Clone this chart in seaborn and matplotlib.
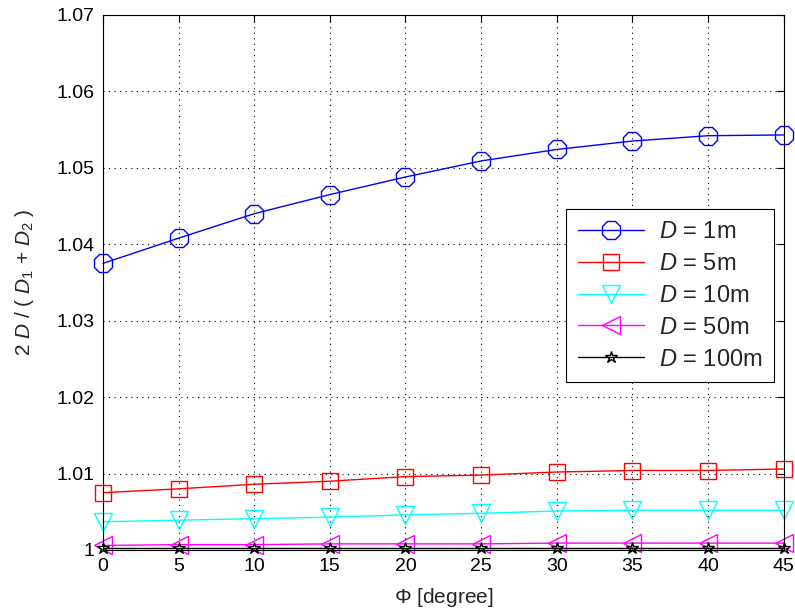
import matplotlib
matplotlib.use("Agg")
import matplotlib.pyplot as plt
import seaborn as sns
import pandas as pd
from matplotlib.ticker import FixedLocator, FixedFormatter

phi = [0, 5, 10, 15, 20, 25, 30, 35, 40, 45]
d1 = [1.0375, 1.0408, 1.0440, 1.0465, 1.0488, 1.0509, 1.0524, 1.0535, 1.0542, 1.0543]
d5 = [1.0075, 1.0080, 1.0086, 1.0090, 1.0096, 1.0098, 1.0102, 1.0104, 1.0104, 1.0106]
d10 = [1.0037, 1.0039, 1.0041, 1.0043, 1.0046, 1.0048, 1.0051, 1.0052, 1.0052, 1.0052]
d50 = [1.0006, 1.0007, 1.0007, 1.0008, 1.0008, 1.0008, 1.0009, 1.0009, 1.0009, 1.0009]
d100 = [1.0002, 1.0002, 1.0002, 1.0002, 1.0002, 1.0002, 1.0002, 1.0002, 1.0002, 1.0002]
labels = ["1m", "5m", "10m", "50m", "100m"]
series = [d1, d5, d10, d50, d100]
colors = ["#0000ff", "#ff0000", "#00ffff", "#ff00ff", "#000000"]
markers = ["8", "s", "v", "<", "*"]
msizes = [14, 12, 13, 13, 9]
xticks = [0, 5, 10, 15, 20, 25, 30, 35, 40, 45]
yticks = [1.0, 1.01, 1.02, 1.03, 1.04, 1.05, 1.06, 1.07]
ytick_labels = ["1", "1.01", "1.02", "1.03", "1.04", "1.05", "1.06", "1.07"]

sns.set_style("white")
plt.rcParams["font.family"] = ["Liberation Sans", "DejaVu Sans"]
plt.rcParams["mathtext.fontset"] = "custom"
plt.rcParams["mathtext.rm"] = "Liberation Sans"
plt.rcParams["mathtext.it"] = "Liberation Sans:italic"

fig = plt.figure(figsize=(7.95, 6.15), dpi=100)
ax = fig.add_axes([0.1296, 0.1057, 0.856, 0.870])

for vals, lab, c, m, ms in zip(series, labels, colors, markers, msizes):
    df = pd.DataFrame({"phi": phi, "val": vals})
    sns.lineplot(data=df, x="phi", y="val", ax=ax, color=c, marker=m,
                 markersize=ms, markerfacecolor="none", markeredgecolor=c,
                 markeredgewidth=1.0, linewidth=1.0,
                 label=r"$\mathit{D}$ = " + lab, clip_on=False)

ax.set_xlim(0, 45)
ax.set_ylim(1.0, 1.07)
ax.xaxis.set_major_locator(FixedLocator(xticks))
ax.yaxis.set_major_locator(FixedLocator(yticks))
ax.yaxis.set_major_formatter(FixedFormatter(ytick_labels))
ax.tick_params(direction="in", top=True, right=True, length=5, width=0.8,
               labelsize=14, colors="black", pad=6)
ax.grid(True, linestyle=(0, (1, 4)), color="black", linewidth=0.8)
for s in ax.spines.values():
    s.set_color("black")
    s.set_linewidth(0.8)
    s.set_visible(True)

ax.set_xlabel(r"$\Phi$ [degree]", fontsize=15, labelpad=8)
ax.set_ylabel(r"2 $\mathit{D}$ / ( $\mathit{D}_1$ + $\mathit{D}_2$ )", fontsize=15, labelpad=15)

leg = ax.legend(loc="upper left", bbox_to_anchor=(0.681, 0.637), borderaxespad=0,
                fontsize=17, frameon=True, fancybox=False, edgecolor="black",
                framealpha=1, handlelength=2.8, borderpad=0.5, labelspacing=0.42,
                handletextpad=0.6)
leg.get_frame().set_linewidth(0.8)

fig.savefig("out.png", dpi=100)
